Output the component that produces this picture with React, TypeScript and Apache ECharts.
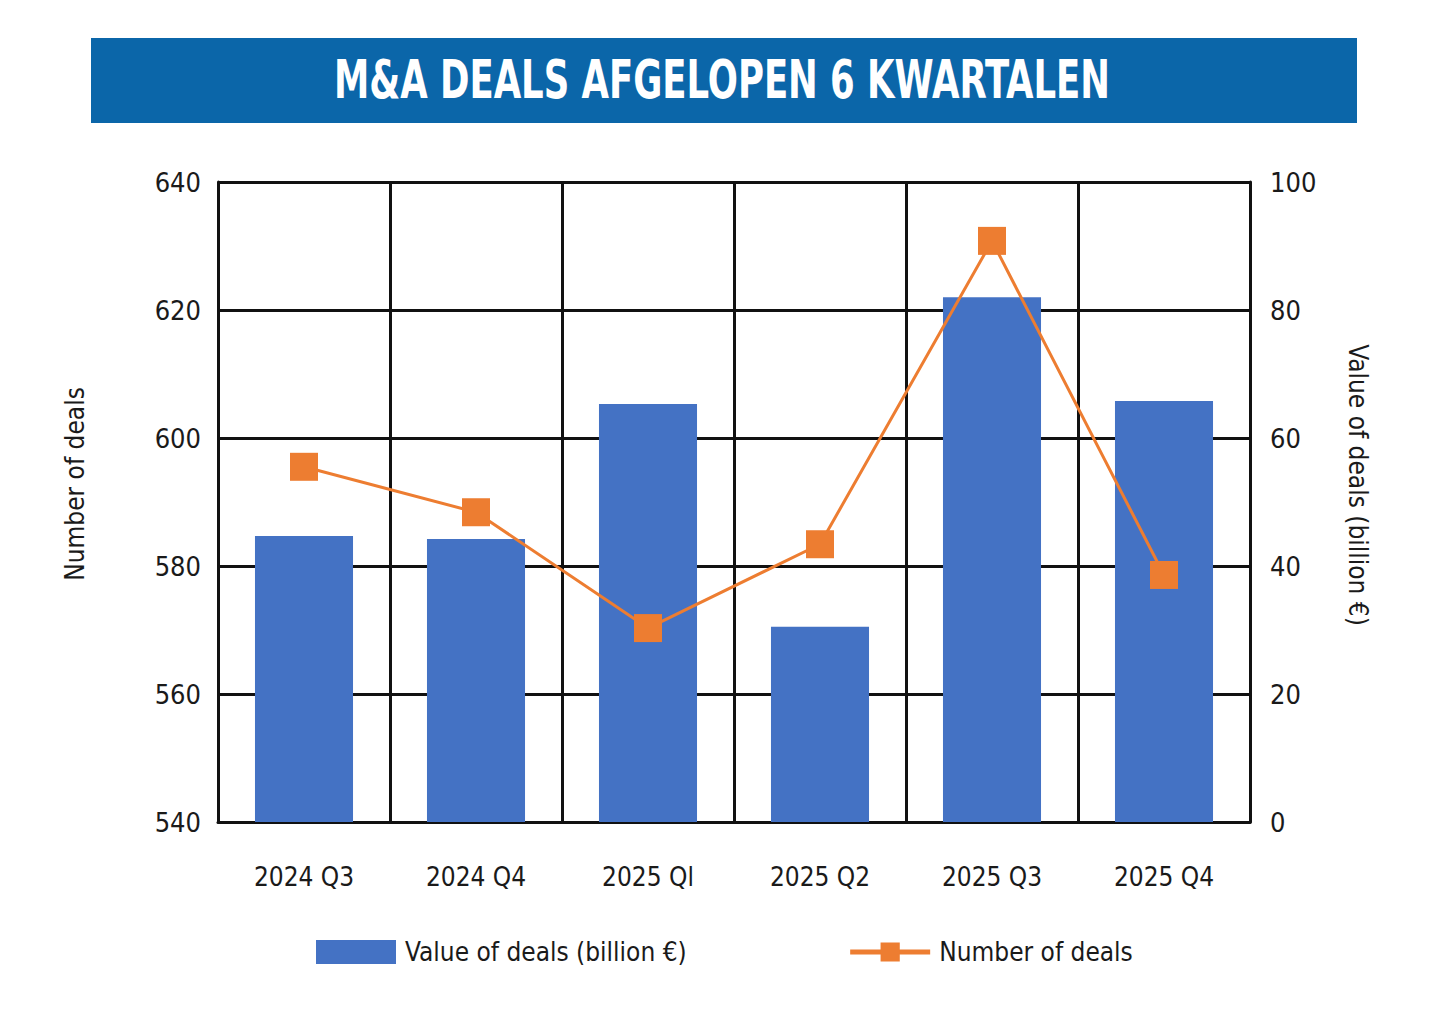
import React, { useEffect, useRef } from "react";
import * as echarts from "echarts";

const categories = ["2024 Q3", "2024 Q4", "2025 Ql", "2025 Q2", "2025 Q3", "2025 Q4"];
const valueOfDeals = [44.7, 44.2, 65.3, 30.5, 82.0, 65.8];
const numberOfDeals = [595.5, 588.4, 570.3, 583.4, 630.8, 578.6];
const titleText = "M&A DEALS AFGELOPEN 6 KWARTALEN";
const leftAxisName = "Number of deals";
const rightAxisName = "Value of deals (billion €)";

const FONT = "'DejaVu Sans Condensed', 'Liberation Sans Narrow', Arial, sans-serif";
const TXT = "#1a1a1a";

export default function App() {
  const ref = useRef<HTMLDivElement>(null);
  useEffect(() => {
    if (!ref.current) return;
    const chart = echarts.init(ref.current, undefined, { renderer: "svg" });
    chart.setOption({
      animation: false,
      backgroundColor: "#ffffff",
      textStyle: { fontFamily: FONT },
      graphic: [
        {
          type: "rect",
          shape: { x: 91, y: 38, width: 1266, height: 85 },
          style: { fill: "#0b66a9" },
          z: 10,
        },
        {
          type: "text",
          x: 722,
          y: 79,
          scaleX: 0.73,
          z: 11,
          style: {
            text: titleText,
            fill: "#ffffff",
            font: `bold 54px ${FONT}`,
            textAlign: "center",
            textVerticalAlign: "middle",
          },
        },
      ],
      legend: {
        top: 934,
        left: 311,
        itemWidth: 80,
        itemHeight: 24,
        itemGap: 161,
        textStyle: { fontFamily: FONT, fontSize: 26, color: TXT, padding: [0, 0, 0, 4] },
        data: [
          { name: rightAxisName, icon: "rect" },
          { name: leftAxisName, lineStyle: { width: 5 } },
        ],
      },
      grid: { left: 218, right: 190, top: 182, bottom: 189, containLabel: false },
      xAxis: {
        type: "category",
        data: categories,
        boundaryGap: true,
        axisLine: { show: true, lineStyle: { color: "#111", width: 3 } },
        axisTick: { show: false },
        splitLine: { show: true, interval: 0, lineStyle: { color: "#111", width: 3 } },
        axisLabel: { fontFamily: FONT, fontSize: 26, color: TXT, margin: 42 },
      },
      yAxis: [
        {
          type: "value",
          min: 540,
          max: 640,
          interval: 20,
          position: "left",
          name: leftAxisName,
          nameLocation: "middle",
          nameGap: 130,
          nameTextStyle: { fontFamily: FONT, fontSize: 26, color: TXT, padding: [0, 0, 0, 36] },
          axisLine: { show: true, lineStyle: { color: "#111", width: 3 } },
          axisTick: { show: false },
          splitLine: { show: true, lineStyle: { color: "#111", width: 3 } },
          axisLabel: { fontFamily: FONT, fontSize: 27, color: TXT, margin: 17 },
        },
        {
          type: "value",
          min: 0,
          max: 100,
          interval: 20,
          position: "right",
          name: rightAxisName,
          nameLocation: "middle",
          nameGap: 95,
          nameRotate: -90,
          nameTextStyle: { fontFamily: FONT, fontSize: 26, color: TXT, padding: [0, 34, 0, 0] },
          axisLine: { show: true, lineStyle: { color: "#111", width: 3 } },
          axisTick: { show: false },
          splitLine: { show: false },
          axisLabel: { fontFamily: FONT, fontSize: 27, color: TXT, margin: 20 },
        },
      ],
      series: [
        {
          name: rightAxisName,
          type: "bar",
          yAxisIndex: 1,
          data: valueOfDeals,
          barWidth: "57%",
          itemStyle: { color: "#4472c4" },
          z: 2,
        },
        {
          name: leftAxisName,
          type: "line",
          yAxisIndex: 0,
          data: numberOfDeals,
          symbol: "rect",
          symbolSize: 28,
          lineStyle: { color: "#ed7d31", width: 3 },
          itemStyle: { color: "#ed7d31" },
          z: 3,
        },
      ],
    });
    return () => chart.dispose();
  }, []);
  return (
    <div
      ref={ref}
      style={{ position: "absolute", left: 0, top: 0, width: 1440, height: 1011 }}
    />
  );
}
